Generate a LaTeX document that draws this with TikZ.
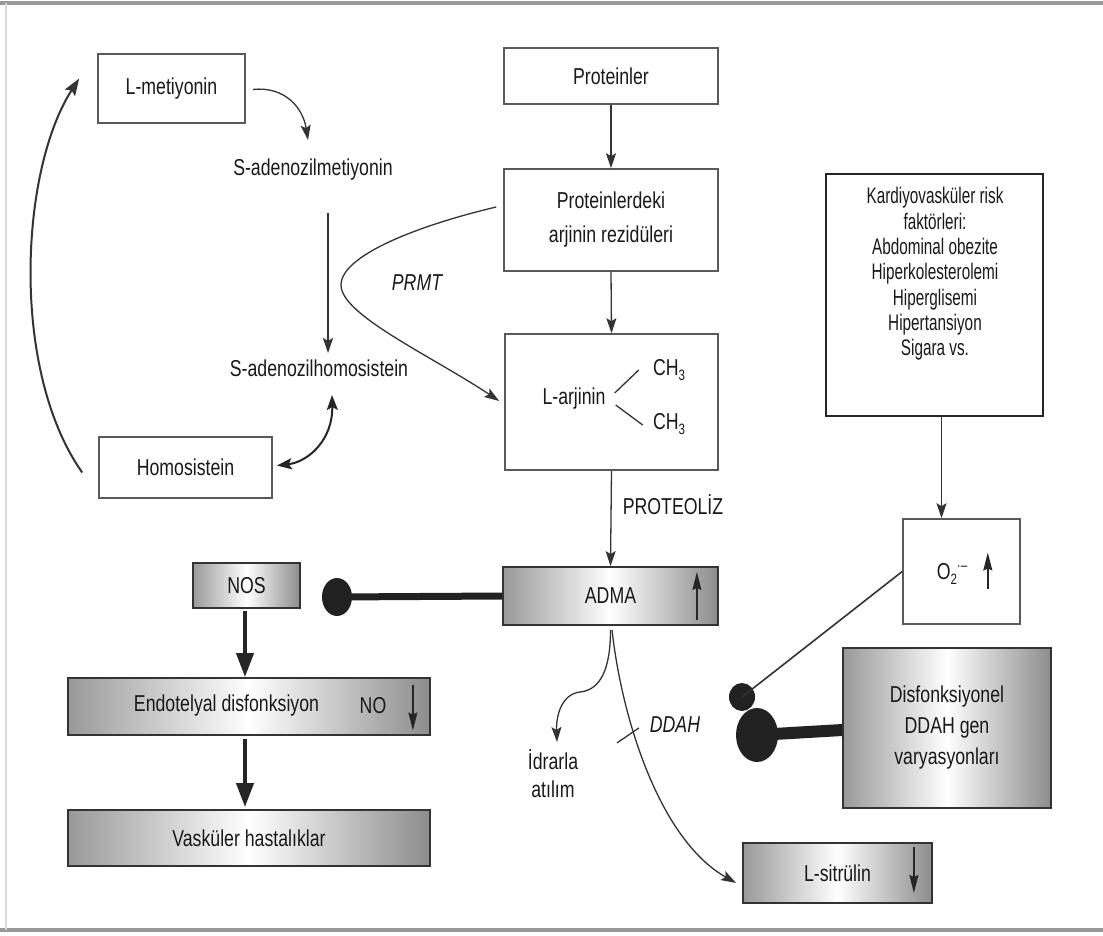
\documentclass[tikz,border=0pt]{standalone}
\usepackage{fontspec}
\setmainfont{Liberation Sans}[FakeStretch=0.77]
\newfontfamily\narrowfont{Liberation Sans}[FakeStretch=0.68]
\usetikzlibrary{arrows.meta,calc,shapes.geometric}
\newcommand{\mysub}[1]{\raisebox{-5pt}{\fontsize{15}{15}\selectfont #1}}
\newcommand{\mysup}[1]{\raisebox{9pt}{\fontsize{15}{15}\selectfont #1}}
\begin{document}
\begin{tikzpicture}[x=1pt,y=-1pt,
  txt/.style={font=\fontsize{23}{25}\selectfont, text=black!90, inner sep=0pt},
  itxt/.style={font=\fontsize{23}{25}\selectfont\itshape, text=black!90, inner sep=0pt},
  box/.style={txt, draw=black!65, line width=1.6pt, fill=white},
  gbox/.style={txt, draw=black!80, line width=1.8pt, left color=black!40, right color=black!45, middle color=white},
  arr/.style={draw=black!80, line width=1.3pt, -{Stealth[length=15pt,width=10pt,inset=3pt]}},
  darr/.style={draw=black!85, line width=2pt, {Stealth[length=15pt,width=11pt,inset=3pt]}-{Stealth[length=15pt,width=11pt,inset=3pt]}},
  tarr/.style={draw=black!85, line width=4pt, -{Triangle[length=24pt,width=17pt]}},
  iarr/.style={draw=black!85, line width=1.4pt, -{Stealth[length=18pt,width=9pt,inset=2pt]}},
  plain/.style={draw=black!80, line width=1.3pt},
  blob/.style={ellipse, fill=black!87, inner sep=0pt}
]
\fill[white] (0,0) rectangle (1103,936);
\useasboundingbox (0,0) rectangle (1103,936);
% frame
\draw[black!40, line width=3.5pt] (0,3) -- (1103,3);
\draw[black!40, line width=3.5pt] (0,930) -- (1103,930);
\draw[black!15, line width=1.5pt] (6,3) -- (6,930);

% methionine cycle
\node[box, minimum width=147, minimum height=69] (met) at (171.5,88.5) {L-metiyonin};
\node[txt] (sam) at (313,170) {S-adenozilmetiyonin};
\node[txt] (sah) at (319,368) {S-adenozilhomosistein};
\node[box, minimum width=173, minimum height=61] (homo) at (185.5,467.5) {Homosistein};

\draw[arr] ($(met.east)+(7,1)$) .. controls (285,86) and (303,108) .. ($(sam.center)+(-5,-30)$);
\draw[arr] ($(sam.center)+(15,43)$) -- ($(sah.center)+(9,-15)$);
\draw[darr] ($(homo.east)+(4,-2)$) .. controls (308,462) and (333,440) .. ($(sah.center)+(13,27)$);
\draw[arr, line width=2pt, -{Stealth[length=17pt,width=12pt,inset=3pt]}] ($(homo.west)+(-16,5)$) .. controls (10,370) and (20,170) .. ($(met.west)+(-18,-10)$);

% central column
\node[box, minimum width=214, minimum height=56] (prot) at (611,76) {Proteinler};
\node[box, minimum width=214, minimum height=102, align=center] (arj) at (611,220) {Proteinlerdeki\\[9pt]arjinin rezidüleri};
\node[box, minimum width=213, minimum height=136] (larj) at (611.5,402) {};
\node[txt] (larjt) at (574,399) {L-arjinin};
\node[txt] (ch1) at (669,370) {CH\mysub{3}};
\node[txt] (ch2) at (669,424) {CH\mysub{3}};
\draw[plain] ($(larjt.east)+(9,-6)$) -- ($(larjt.east)+(33,-29)$);
\draw[plain] ($(larjt.east)+(10,6)$) -- ($(larjt.east)+(37,26)$);
\node[gbox, minimum width=215, minimum height=58] (adma) at (610.5,596) {ADMA};
\draw[iarr] ($(adma.east)+(-22,24)$) -- ($(adma.east)+(-22,-24)$);

\draw[arr] (prot.south) -- (arj.north);
\draw[arr] (arj.south) -- (larj.north);
\draw[arr] (larj.south) -- (adma.north);
\node[txt] (proteoliz) at (673,505) {PROTEOLİZ};

\node[itxt] (prmt) at (417,283) {PRMT};
\draw[arr] ($(arj.west)+(-7,-13)$) .. controls (420,225) and (341,255) .. (341,285)
   .. controls (341,315) and (430,355) .. ($(larj.west)+(-5,-1)$);

% left column
\node[gbox, minimum width=107, minimum height=45] (nos) at (246.5,585.5) {NOS};
\node[gbox, minimum width=362, minimum height=57] (endo) at (249,706.5) {};
\node[txt] (endot) at (226.5,706) {Endotelyal disfonksiyon};
\node[txt] (no) at (373,706) {NO};
\draw[iarr] ($(endo.east)+(-18,-22)$) -- ($(endo.east)+(-18,24)$);
\node[gbox, minimum width=362, minimum height=56] (vask) at (249,838) {Vasküler hastalıklar};
\draw[tarr] ($(nos.south)+(-1.5,2)$) -- ($(endo.north -| nos.south)+(-1.5,0)$);
\draw[tarr] ($(endo.south -| nos.south)+(-1.5,3)$) -- ($(vask.north -| nos.south)+(-1.5,-2)$);

\node[blob, minimum width=30, minimum height=38] (inh1) at (337,597) {};
\draw[draw=black!87, line width=7pt] (adma.west) -- (inh1.center);

% bottom of ADMA
\node[txt, align=center] (idr) at (553,774) {İdrarla\\[3pt]atılım};
\node[gbox, minimum width=189, minimum height=60] (sit) at (837.5,873) {L-sitrülin};
\draw[iarr] ($(sit.east)+(-19,-26)$) -- ($(sit.east)+(-19,20)$);
\draw[arr] ($(adma.south)+(0,4)$) .. controls (610.5,670) and (600,690) .. (580,692)
   .. controls (562,694) and (556,715) .. ($(idr.center)+(4,-32)$);
\draw[arr] ($(adma.south)+(1.5,4)$) .. controls (622,720) and (660,840) .. ($(sit.west)+(-6,10)$);
\draw[plain] ($(adma.south)+(6.5,117)$) -- ($(adma.south)+(28.5,102)$);
\node[itxt] (ddahl) at (675,725) {DDAH};

% right column
\node[box, draw=black!85, line width=2.6pt, minimum width=217, minimum height=242] (kard) at (934.5,295) {};
\node[txt, align=center, font=\narrowfont\fontsize{22.5}{25.3}\selectfont] (kardt) at (935,274) {Kardiyovasküler risk\\faktörleri:\\Abdominal obezite\\Hiperkolesterolemi\\Hiperglisemi\\Hipertansiyon\\Sigara vs.};
\node[box, minimum width=117, minimum height=105] (o2) at (961.5,571.5) {};
\node[txt] (o2t) at (952,574) {O\mysub{2}\mysup{·–}};
\draw[iarr] ($(o2.east)+(-33,17)$) -- ($(o2.east)+(-33,-19)$);
\draw[arr] ($(kard.south)+(7,0)$) -- ($(kard.south |- o2.north)+(7,0)$);

\node[gbox, minimum width=208, minimum height=160, align=center, font=\fontsize{23}{31}\selectfont] (ddah) at (947,728) {Disfonksiyonel\\DDAH gen\\varyasyonları};
\node[blob, minimum width=26, minimum height=28] (inh2) at (742,697) {};
\node[blob, minimum width=42, minimum height=54] (inh3) at (757,735) {};
\draw[plain, line width=1.6pt] (o2.west) -- (inh2.center);
\draw[draw=black!87, line width=12pt] ($(ddah.west)+(0,2)$) -- (inh3.center);
\end{tikzpicture}
\end{document}
